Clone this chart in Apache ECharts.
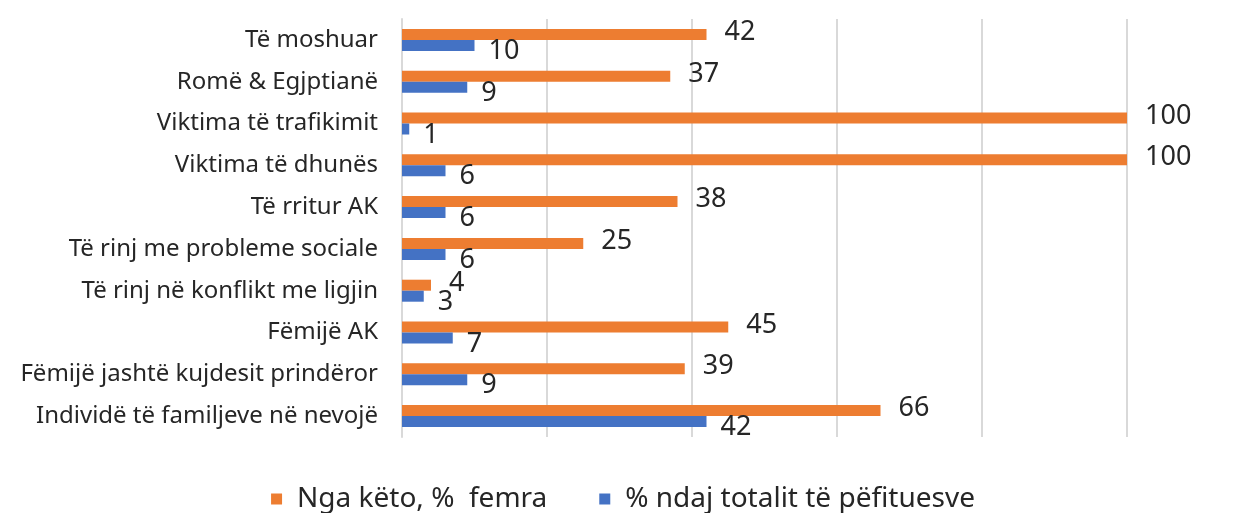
<!DOCTYPE html>
<html>
<head>
<meta charset="utf-8">
<script src="https://cdn.jsdelivr.net/npm/echarts@6/dist/echarts.min.js"></script>
<style>
    html, body { margin: 0; padding: 0; background: #fff; }
    #chart { width: 1246px; height: 513px; }
</style>
</head>
<body>
<div id="chart"></div>
<script>
// kategorite, nga lart poshte
const categories = [
    'Të moshuar',
    'Romë & Egjptianë',
    'Viktima të trafikimit',
    'Viktima të dhunës',
    'Të rritur AK',
    'Të rinj me probleme sociale',
    'Të rinj në konflikt me ligjin',
    'Fëmijë AK',
    'Fëmijë jashtë kujdesit prindëror',
    'Individë të familjeve në nevojë'
];
const femraValues = [42, 37, 100, 100, 38, 25, 4, 45, 39, 66];
const totalValues = [10, 9, 1, 6, 6, 6, 3, 7, 9, 42];
const seriesNames = ['Nga këto, %  femra', '% ndaj totalit të pëfituesve'];

const font = 'Noto Sans';

let chart = echarts.init(document.getElementById('chart'));
chart.setOption({
    animation: false,
    textStyle: { fontFamily: font },
    grid: { left: 402, right: 119, top: 19, height: 418, containLabel: false },
    legend: {
        top: 480,
        left: 'center',
        itemWidth: 11,
        itemHeight: 11,
        itemGap: 52,
        icon: 'rect',
        textStyle: { fontSize: 28, color: '#262626', fontFamily: font, padding: [0, 0, 0, 10] },
        data: seriesNames
    },
    xAxis: {
        type: 'value',
        min: 0,
        max: 100,
        interval: 20,
        axisLabel: { show: false },
        axisTick: { show: false },
        axisLine: { show: false },
        splitLine: { lineStyle: { color: '#d9d9d9', width: 2 } }
    },
    yAxis: {
        type: 'category',
        inverse: true,
        data: categories,
        axisTick: { show: false },
        axisLine: { show: true, lineStyle: { color: '#d9d9d9', width: 2 } },
        axisLabel: { fontSize: 24, color: '#262626', margin: 24, fontFamily: font }
    },
    series: [
        {
            name: seriesNames[0],
            type: 'bar',
            data: femraValues,
            barWidth: 11,
            barGap: '0%',
            itemStyle: { color: '#ed7d31' },
            label: {
                show: true, position: 'right', distance: 18, offset: [0, -2],
                fontSize: 27, color: '#262626', fontFamily: font
            }
        },
        {
            name: seriesNames[1],
            type: 'bar',
            data: totalValues,
            barWidth: 11,
            itemStyle: { color: '#4472c4' },
            label: {
                show: true, position: 'right', distance: 14, offset: [0, 6],
                fontSize: 27, color: '#262626', fontFamily: font
            }
        }
    ]
});
</script>
</body>
</html>
